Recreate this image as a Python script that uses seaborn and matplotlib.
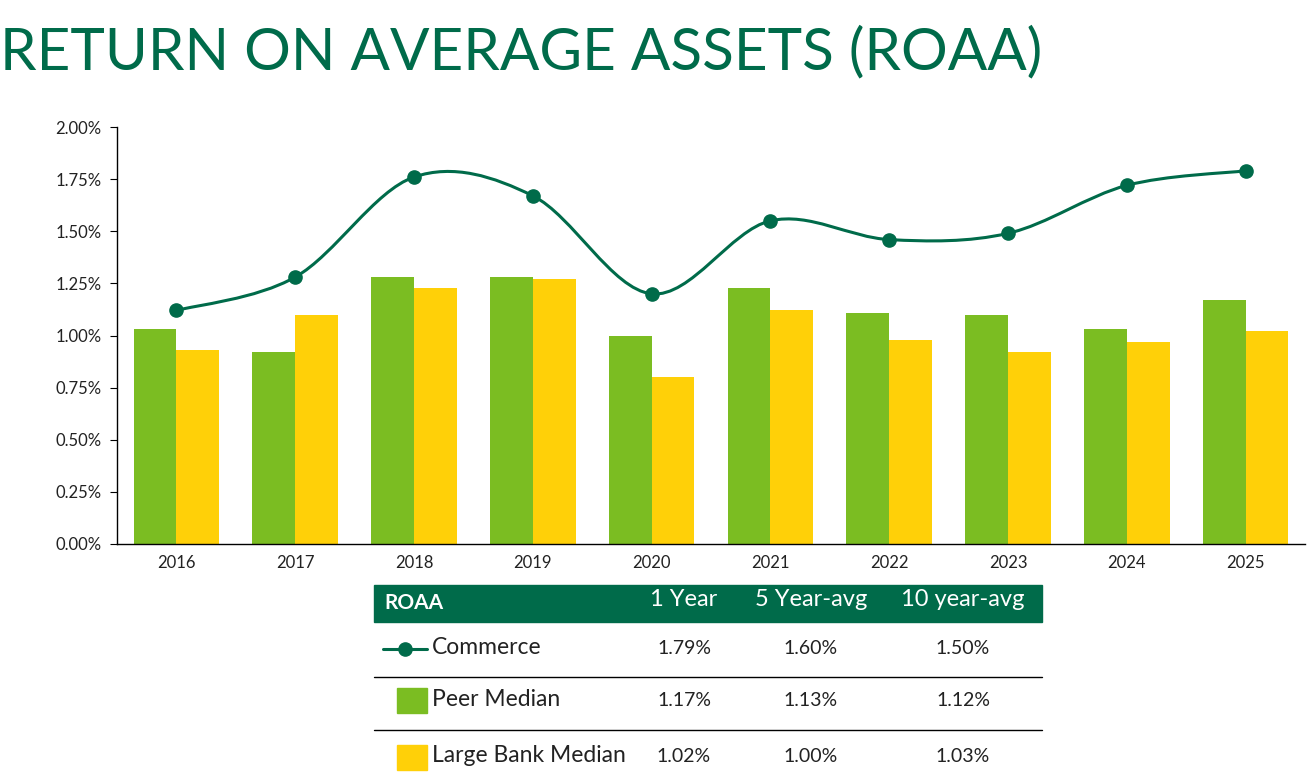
import numpy as np
import pandas as pd
import matplotlib.pyplot as plt
from matplotlib.path import Path
from matplotlib.patches import PathPatch, Rectangle
import seaborn as sns

sns.set_theme(style="white")
plt.rcParams['font.family'] = ['Lato', 'DejaVu Sans']

years = ["2016", "2017", "2018", "2019", "2020", "2021", "2022", "2023", "2024", "2025"]
commerce = [1.12, 1.28, 1.76, 1.67, 1.20, 1.55, 1.46, 1.49, 1.72, 1.79]
peer_median = [1.03, 0.92, 1.28, 1.28, 1.00, 1.23, 1.11, 1.10, 1.03, 1.17]
large_bank_median = [0.93, 1.10, 1.23, 1.27, 0.80, 1.12, 0.98, 0.92, 0.97, 1.02]

table_cols = ["1 Year", "5 Year-avg", "10 year-avg"]
table_rows = ["Commerce", "Peer Median", "Large Bank Median"]
table_vals = [["1.79%", "1.60%", "1.50%"],
              ["1.17%", "1.13%", "1.12%"],
              ["1.02%", "1.00%", "1.03%"]]

DARK = "#006B4A"
GREEN = "#7BBD22"
YELLOW = "#FFD008"

df = pd.DataFrame({
    "year": years * 2,
    "value": peer_median + large_bank_median,
    "series": ["Peer Median"] * 10 + ["Large Bank Median"] * 10,
})

fig = plt.figure(figsize=(13.1, 7.79), dpi=100)
ax = fig.add_axes([117 / 1310, 235 / 779, 1188 / 1310, 417 / 779])

sns.barplot(data=df, x="year", y="value", hue="series", order=years,
            hue_order=["Peer Median", "Large Bank Median"],
            palette={"Peer Median": GREEN, "Large Bank Median": YELLOW},
            width=0.72, saturation=1, legend=False, linewidth=0, ax=ax)

# smooth line like excel (catmull-rom as cubic bezier)
xs = np.arange(len(commerce), dtype=float)
ys = np.array(commerce)
verts = [(xs[0], ys[0])]
codes = [Path.MOVETO]
n = len(xs)
for i in range(n - 1):
    p0 = np.array([xs[max(i - 1, 0)], ys[max(i - 1, 0)]])
    p1 = np.array([xs[i], ys[i]])
    p2 = np.array([xs[i + 1], ys[i + 1]])
    p3 = np.array([xs[min(i + 2, n - 1)], ys[min(i + 2, n - 1)]])
    c1 = p1 + (p2 - p0) / 6
    c2 = p2 - (p3 - p1) / 6
    verts += [tuple(c1), tuple(c2), tuple(p2)]
    codes += [Path.CURVE4] * 3
ax.add_patch(PathPatch(Path(verts, codes), facecolor="none", edgecolor=DARK,
                       lw=2.2, zorder=4))
ax.plot(xs, ys, linestyle="none", marker="o", markersize=9.5, color=DARK, zorder=5)

ax.set_xlim(-0.5, 9.5)
ax.set_ylim(0, 2.0)
ax.set_yticks(np.arange(0, 2.01, 0.25))
ax.set_yticklabels([f"{v:.2f}%" for v in np.arange(0, 2.01, 0.25)])
ax.set_xlabel("")
ax.set_ylabel("")
for s in ["top", "right"]:
    ax.spines[s].set_visible(False)
for s in ["left", "bottom"]:
    ax.spines[s].set_color("black")
    ax.spines[s].set_linewidth(1)
ax.tick_params(axis="y", left=True, length=5, width=0.8, color="black",
               labelsize=12, labelcolor="#222222", pad=6)
ax.tick_params(axis="x", bottom=False, labelsize=12, labelcolor="#222222", pad=2)

fig.text(0.0, 1 - 53 / 779, "RETURN ON AVERAGE ASSETS (ROAA)", color=DARK,
         fontsize=42, va="center", ha="left")

# table underneath
tab = fig.add_axes([0, 0, 1, 1])
tab.set_xlim(0, 1310)
tab.set_ylim(779, 0)
tab.axis("off")
tab.add_patch(Rectangle((374, 585), 668, 37, color=DARK))
tab.text(384, 603, "ROAA", color="white", fontsize=15, fontweight="bold", va="center")
col_x = [684, 811, 963]
for cx, c in zip(col_x, table_cols):
    tab.text(cx, 600, c, color="white", fontsize=17, ha="center", va="center")
row_y = [647, 700, 756]
for ry, r, vals in zip(row_y, table_rows, table_vals):
    tab.text(432, ry, r, fontsize=16.5, va="center", color="#222222")
    for cx, v in zip(col_x, vals):
        tab.text(cx, ry + 1, v, fontsize=14, ha="center", va="center", color="#222222")
for ly in [677, 730]:
    tab.plot([374, 1042], [ly, ly], color="black", lw=1)
tab.plot([383, 427], [649, 649], color=DARK, lw=2.2)
tab.plot([405], [649], marker="o", markersize=9.5, color=DARK)
tab.add_patch(Rectangle((397, 688), 30, 25, color=GREEN))
tab.add_patch(Rectangle((397, 745), 30, 25, color=YELLOW))

fig.savefig("out.png", dpi=100)
